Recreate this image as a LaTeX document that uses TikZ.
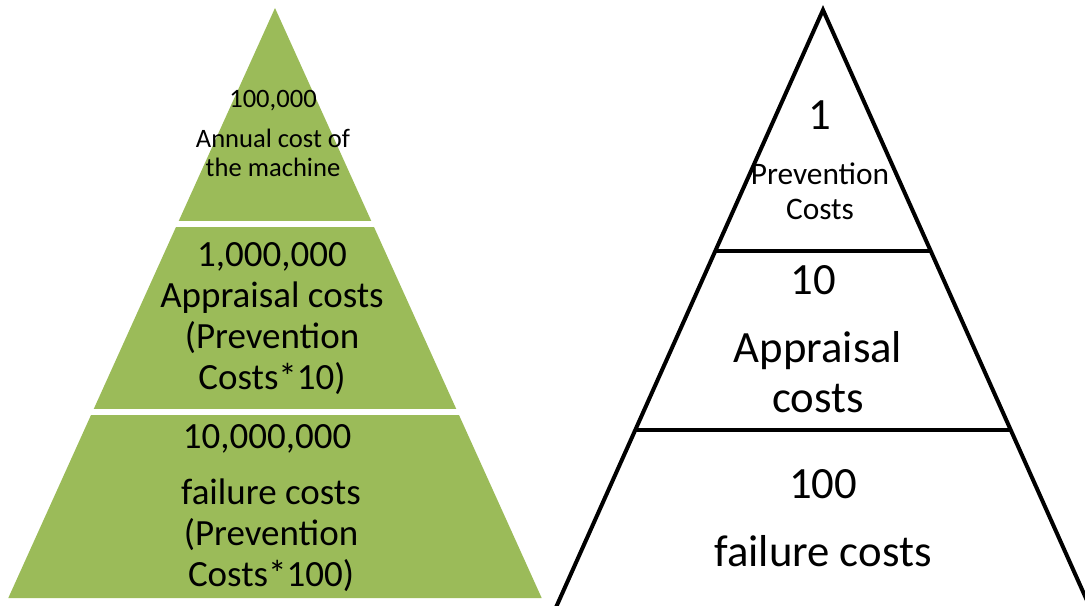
\documentclass[tikz,border=0pt]{standalone}
\usepackage{fontspec}
\setmainfont{Carlito}
\definecolor{pyrgreen}{RGB}{155,187,89}
\tikzset{
  lsmall/.style={font=\fontsize{18.9}{20.6}\selectfont, align=center, anchor=base, inner sep=0pt},
  llarge/.style={font=\fontsize{26.3}{29}\selectfont, align=center, anchor=base, inner sep=0pt},
  rsmall/.style={font=\fontsize{22.3}{24.2}\selectfont, align=center, anchor=base, inner sep=0pt},
  rlarge/.style={font=\fontsize{31.8}{34.9}\selectfont, align=center, anchor=base, inner sep=0pt},
  pyrline/.style={line width=2.85pt, black}
}
\begin{document}
\begin{tikzpicture}[x=0.025cm, y=-0.025cm]
\useasboundingbox (0,0) rectangle (1085,605);
\clip (0,0) rectangle (1085,605);
% green pyramid
\fill[pyrgreen] (275,8) -- (541.7,598) -- (8.3,598) -- cycle;
\fill[white] (0,220.7) rectangle (560,226.7);
\fill[white] (0,409.3) rectangle (560,415);
\node[lsmall] (costA) at (273,107) {100,000};
\node[lsmall] (machine) at (273,176) {Annual cost of\\the machine};
\node[llarge] (appraisalL) at (272,389) {1,000,000\\Appraisal costs\\(Prevention\\Costs*10)};
\node[llarge] (costC) at (267,448) {10,000,000};
\node[llarge] (failureL) at (271,586) {failure costs\\(Prevention\\Costs*100)};
% outlined pyramid
\draw[pyrline] (541.4,640) -- (823,10) -- (1104.6,640);
\draw[pyrline] (715.3,251) -- (930.7,251);
\draw[pyrline] (635.3,430) -- (1010.7,430);
\node[rlarge] (one) at (820,129) {1};
\node[rsmall] (prevR) at (820,219) {Prevention\\Costs};
\node[rlarge] (ten) at (813,294) {10};
\node[rlarge] (appraisalR) at (818,412) {Appraisal\\costs};
\node[rlarge] (hundred) at (823,498) {100};
\node[rlarge] (failureR) at (823,566) {failure costs};
\end{tikzpicture}
\end{document}
